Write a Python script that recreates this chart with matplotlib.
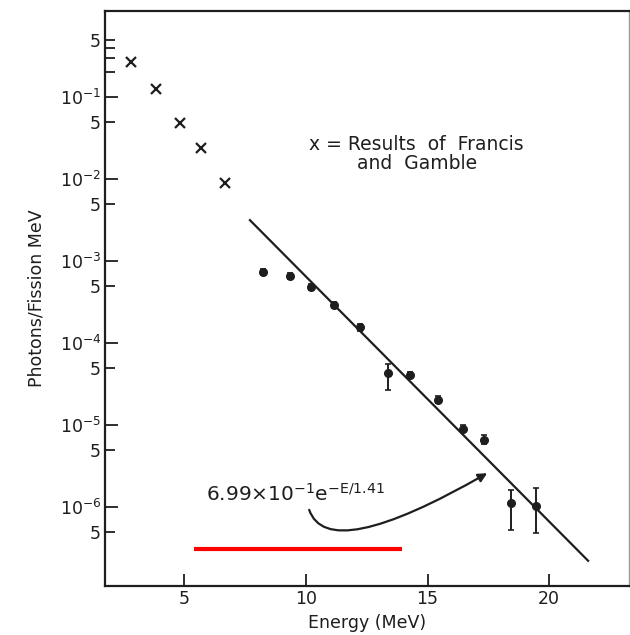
import matplotlib
matplotlib.use("Agg")
import matplotlib.pyplot as plt
from matplotlib.ticker import FixedLocator, FixedFormatter

# Francis and Gamble results (x markers)
fg_energy = [2.82, 3.85, 4.84, 5.70, 6.69]
fg_flux = [0.267, 0.125, 0.0483, 0.024, 0.009]

# measured points with error bars
energy = [8.25, 9.35, 10.21, 11.17, 12.23, 13.37, 14.29, 15.44, 16.45, 17.30, 18.44, 19.47]
flux = [7.29e-4, 6.59e-4, 4.79e-4, 2.92e-4, 1.56e-4, 4.31e-5, 4.13e-5, 2.04e-5,
        9.06e-6, 6.67e-6, 1.11e-6, 1.03e-6]
flux_hi = [7.95e-4, 7.2e-4, 5.2e-4, 3.2e-4, 1.72e-4, 5.60e-5, 4.5e-5, 2.25e-5,
           1.0e-5, 7.5e-6, 1.64e-6, 1.72e-6]
flux_lo = [6.7e-4, 6.0e-4, 4.4e-4, 2.65e-4, 1.42e-4, 2.71e-5, 3.8e-5, 1.85e-5,
           8.2e-6, 5.9e-6, 5.25e-7, 4.86e-7]

# fitted line 6.99e-1 exp(-E/1.41), end points
fit_energy = [7.70, 21.6]
fit_flux = [3.16e-3, 2.22e-7]

# red overlay bar
red_energy = [5.41, 13.93]
red_flux = [3.08e-7, 3.08e-7]

major_vals = [1e-1, 1e-2, 1e-3, 1e-4, 1e-5, 1e-6]
major_labels = ["10$^{-1}$", "10$^{-2}$", "10$^{-3}$", "10$^{-4}$", "10$^{-5}$", "10$^{-6}$"]
five_vals = [5e-1, 5e-2, 5e-3, 5e-4, 5e-5, 5e-6, 5e-7]
small_vals = [4e-1, 3e-1, 2e-1]

ink = "#1e1e1e"

fig = plt.figure(figsize=[6.3, 6.35], dpi=100)
ax = fig.add_axes([0.167, 0.077, 0.831, 0.906])
ax.set_yscale("log")
ax.set_xlim(1.75, 23.27)
ax.set_ylim(1.09e-7, 1.13)

ax.plot(fg_energy, fg_flux, "x", color=ink, markersize=7, markeredgewidth=1.6)
err_lo = [f - l for f, l in zip(flux, flux_lo)]
err_hi = [h - f for f, h in zip(flux, flux_hi)]
ax.errorbar(energy, flux, yerr=[err_lo, err_hi], fmt="o", color=ink,
            markersize=5.5, elinewidth=1.4, capsize=2.5, capthick=1.2)
ax.plot(fit_energy, fit_flux, color=ink, lw=1.6)
ax.plot(red_energy, red_flux, color="red", lw=3, solid_capstyle="butt")

ax.text(14.55, 0.0205, "x = Results  of  Francis\nand  Gamble", ha="center", va="center",
        fontsize=13.5, linespacing=1.0, color=ink)
ax.text(5.9, 1.45e-6, "6.99×10$^{-1}$e$^{-\\mathrm{E/1.41}}$", ha="left", va="center",
        fontsize=14.5, color=ink)
ax.annotate("", xy=(17.55, 2.7e-6), xytext=(10.1, 1.0e-6),
            arrowprops=dict(arrowstyle="-|>", color=ink, lw=1.6,
                            connectionstyle="angle3,angleA=-75,angleB=30",
                            mutation_scale=13))

ax.yaxis.set_major_locator(FixedLocator(major_vals))
ax.yaxis.set_major_formatter(FixedFormatter(major_labels))
ax.yaxis.set_minor_locator(FixedLocator(five_vals + small_vals))
ax.yaxis.set_minor_formatter(FixedFormatter(["5"] * len(five_vals) + [""] * len(small_vals)))
ax.set_xticks([5, 10, 15, 20])
ax.tick_params(axis="both", which="major", direction="in", length=9, width=1.3,
               labelsize=12.5, colors=ink, pad=3)
ax.tick_params(axis="y", which="minor", direction="in", length=7, width=1.3,
               labelsize=12.5, colors=ink, pad=3)
ax.tick_params(axis="x", which="minor", bottom=False)

for side in ["left", "bottom", "top"]:
    ax.spines[side].set_linewidth(1.6)
    ax.spines[side].set_color(ink)
ax.spines["right"].set_linewidth(1.0)
ax.spines["right"].set_color("#999999")

ax.set_xlabel("Energy (MeV)", fontsize=12.5, color=ink, labelpad=4)
ax.set_ylabel("Photons/Fission MeV", fontsize=12.5, color=ink, labelpad=10)

plt.savefig("out.png", dpi=100)
